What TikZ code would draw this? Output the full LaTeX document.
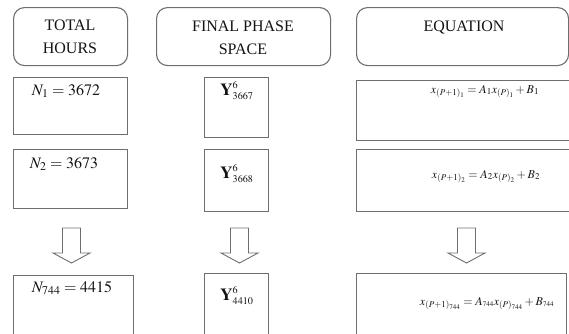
\documentclass[tikz,border=0pt]{standalone}
\usepackage{mathptmx}
\usepackage[no-math]{fontspec}
\setmainfont{Liberation Serif}
\definecolor{linegray}{HTML}{6E6E6E}
\definecolor{inkcol}{HTML}{141414}
\tikzset{
  boxline/.style={draw=linegray, line width=1.1pt, inner sep=0pt},
  hdrbox/.style={boxline, rounded corners=11pt, anchor=north west},
  cellbox/.style={boxline, anchor=north west},
  hdrtext/.style={anchor=base, inner sep=0pt, text=inkcol, font=\fontsize{16}{19}\selectfont},
  numtext/.style={anchor=base, inner sep=0pt, text=inkcol, font=\fontsize{16}{19}\selectfont},
  ytext/.style={anchor=base, inner sep=0pt, text=inkcol, font=\fontsize{17}{20}\selectfont},
  eqtext/.style={anchor=base, inner sep=0pt, text=inkcol, font=\fontsize{12}{14}\selectfont},
  blockarrow/.style={draw=linegray, line width=0.9pt, line join=miter},
  pics/downarrow/.style={code={
    \draw[blockarrow] (-9,0) -- (9,0) -- (9,25) -- (18.5,25) -- (0,35) -- (-18.5,25) -- (-9,25) -- cycle;
  }}
}
\newcommand{\ysym}[1]{\mathbf{Y}^{\scriptscriptstyle 6}_{\scriptscriptstyle #1}}
\newcommand{\tn}[1]{{\scriptscriptstyle #1}}
\begin{document}
\begin{tikzpicture}[x=1pt,y=-1pt]
\useasboundingbox (0,0) rectangle (569,333);
\clip (0,0) rectangle (569,333);
% header boxes
\node[hdrbox, minimum width=114pt, minimum height=58pt] (h1) at (13,7) {};
\node[hdrbox, minimum width=174pt, minimum height=58pt] (h2) at (156,7) {};
\node[hdrbox, minimum width=212pt, minimum height=58pt] (h3) at (356,7) {};
\node[hdrtext] (h1a) at (70,30) {TOTAL};
\node[hdrtext] (h1b) at (70,53) {HOURS};
\node[hdrtext] (h2a) at (243,31) {FINAL PHASE};
\node[hdrtext] (h2b) at (243,54) {SPACE};
\node[hdrtext] (h3a) at (464,31) {EQUATION};
% row 1
\node[cellbox, minimum width=114pt, minimum height=57pt] (r1a) at (13,77) {};
\node[cellbox, minimum width=64pt, minimum height=60pt] (r1b) at (204,77) {};
\node[cellbox, minimum width=230pt, minimum height=60pt] (r1c) at (356,80) {};
\node[numtext] (t1a) at (66,95) {$N_1=3672$};
\node[ytext] (t1b) at (237,95) {$\ysym{3667}$};
\node[eqtext] (t1c) at (485,93) {$x_{(P+1)_1}=A_1x_{(P)_1}+B_1$};
% row 2
\node[cellbox, minimum width=114pt, minimum height=59pt] (r2a) at (13,149) {};
\node[cellbox, minimum width=64pt, minimum height=62pt] (r2b) at (204,149) {};
\node[cellbox, minimum width=230pt, minimum height=62pt] (r2c) at (356,149) {};
\node[numtext] (t2a) at (64,168) {$N_2=3673$};
\node[ytext] (t2b) at (237,178) {$\ysym{3668}$};
\node[eqtext] (t2c) at (486,178) {$x_{(P+1)_2}=A_2x_{(P)_2}+B_2$};
% arrows
\pic at (71.5,228) {downarrow};
\pic at (239.5,228) {downarrow};
\pic at (466.5,228) {downarrow};
% row 3
\node[cellbox, minimum width=120pt, minimum height=80pt] (r3a) at (13,275) {};
\node[cellbox, minimum width=64pt, minimum height=80pt] (r3b) at (204,273) {};
\node[cellbox, minimum width=210pt, minimum height=80pt] (r3c) at (356,273) {};
\node[numtext] (t3a) at (72,292) {$N_{744}=4415$};
\node[ytext] (t3b) at (237,300) {$\ysym{4410}$};
\node[eqtext] (t3c) at (487,305) {$x_{(P+1)_{744}}=A_{\tn{744}}x_{(P)_{744}}+B_{\tn{744}}$};
\end{tikzpicture}
\end{document}
